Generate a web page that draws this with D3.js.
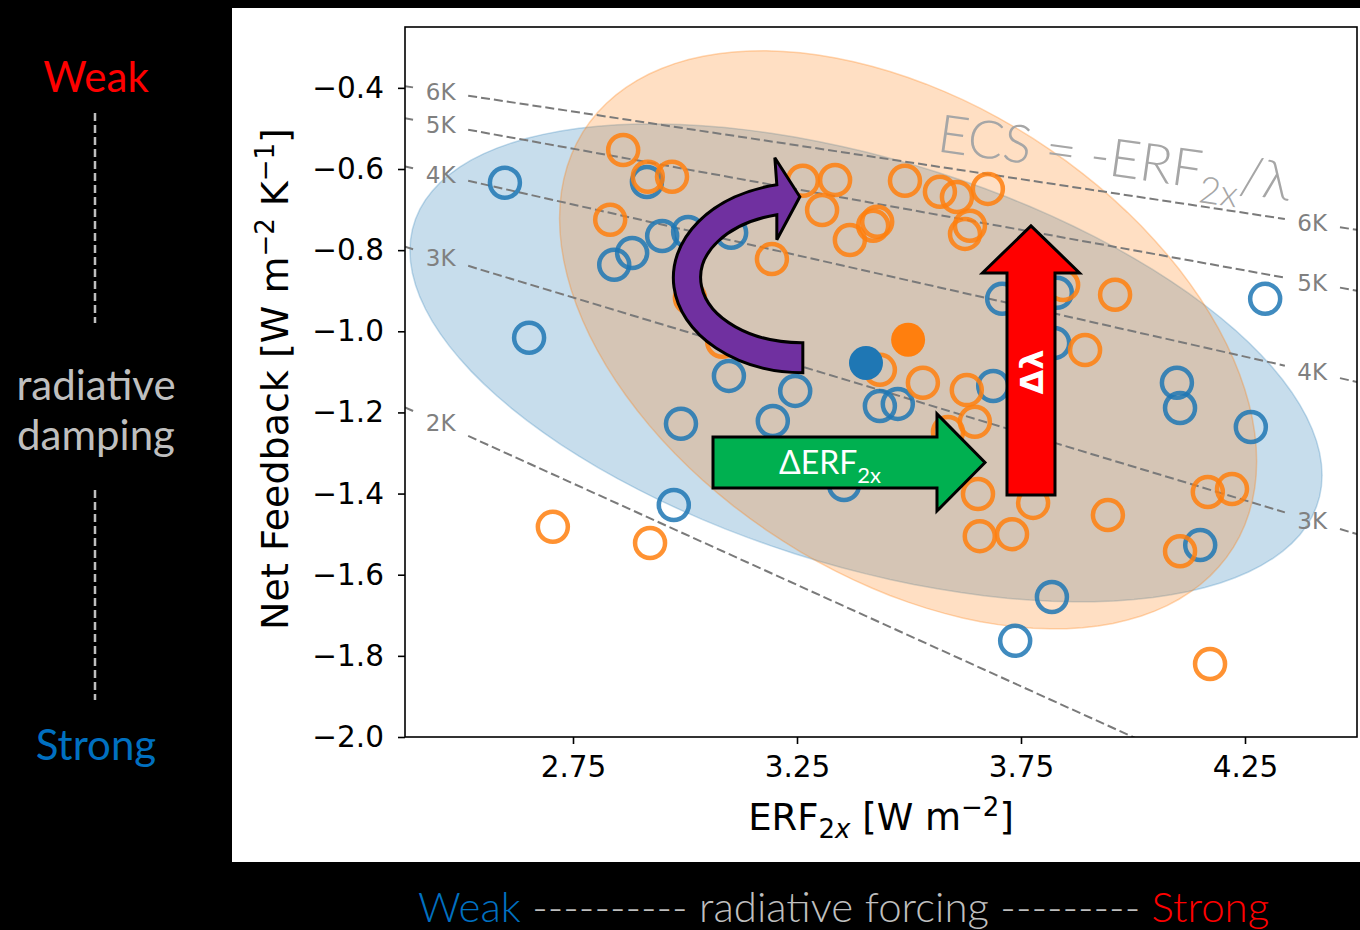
<!DOCTYPE html>
<html>
<head>
<meta charset="utf-8">
<script src="https://cdn.jsdelivr.net/npm/d3@7"></script>
<style>
  body { margin: 0; background: #000; }
  svg { display: block; }
</style>
</head>
<body>
<script>
// CMIP5 models (blue rings)
const cmip5Erf = [2.598, 2.652, 2.915, 2.842, 2.882, 2.949, 3.007, 3.103, 3.098, 3.246, 3.196, 2.991, 2.975, 3.355,
  3.435, 3.475, 3.688, 3.708, 3.830, 3.824, 4.295, 4.098, 4.105, 4.263, 4.150, 3.819, 3.737];
const cmip5Lambda = [-0.634, -1.016, -0.632, -0.836, -0.807, -0.765, -0.755, -0.757, -1.110, -1.147, -1.221, -1.228, -1.428, -1.379,
  -1.184, -1.179, -1.135, -0.920, -0.905, -1.029, -0.920, -1.127, -1.189, -1.236, -1.527, -1.655, -1.763];

// CMIP6 models (orange rings)
const cmip6Erf = [2.862, 2.917, 2.971, 2.833, 3.263, 3.335, 3.306, 3.368, 3.420, 3.429, 3.491, 3.569, 3.607, 3.676,
  3.636, 3.625, 3.194, 3.011, 3.083, 3.435, 3.531, 3.629, 3.647, 3.587, 3.654, 3.844, 3.960, 3.893, 3.777,
  3.944, 3.658, 3.730, 4.167, 4.221, 4.105, 4.172, 2.705, 2.922];
const cmip6Lambda = [-0.553, -0.619, -0.619, -0.725, -0.629, -0.627, -0.701, -0.775, -0.740, -0.730, -0.629, -0.656, -0.669, -0.649,
  -0.740, -0.760, -0.822, -0.918, -1.026, -1.095, -1.127, -1.145, -1.223, -1.248, -1.401, -0.886, -0.910, -1.046, -1.423,
  -1.453, -1.505, -1.500, -1.396, -1.389, -1.542, -1.820, -1.482, -1.522];

// ensemble means [ERF, lambda]
const cmip5Mean = [3.404, -1.078];
const cmip6Mean = [3.498, -1.021];

// spread ellipses: [half-width ERF, half-height lambda, correlation]
const cmip5Ellipse = [1.018, 0.589, -0.47];
const cmip6Ellipse = [0.778, 0.7125, -0.42];

const ecsLevels = [2, 3, 4, 5, 6];
const xTicks = [2.75, 3.25, 3.75, 4.25];
const yTicks = [-0.4, -0.6, -0.8, -1.0, -1.2, -1.4, -1.6, -1.8, -2.0];

const width = 1360, height = 930;
const blue = '#1f77b4', orange = '#ff7f0e';

const svg = d3.select('body').append('svg')
  .attr('width', width)
  .attr('height', height);

svg.append('rect').attr('width', width).attr('height', height).attr('fill', '#000');
// white panel holding the matplotlib figure
svg.append('rect').attr('x', 232).attr('y', 8).attr('width', width - 232).attr('height', 854).attr('fill', '#fff');

const x = d3.scaleLinear().domain([2.375, 4.5]).range([405, 1357]);
const y = d3.scaleLinear().domain([-2.0, -0.25]).range([737, 27]);

svg.append('clipPath').attr('id', 'plot-clip')
  .append('rect')
  .attr('x', x.range()[0]).attr('y', y.range()[1])
  .attr('width', x.range()[1] - x.range()[0])
  .attr('height', y.range()[0] - y.range()[1]);

const plot = svg.append('g').attr('clip-path', 'url(#plot-clip)');

// ellipses (blue first, orange on top)
const ellipsePath = (mean, e) => {
  const phi = Math.acos(e[2]);
  const pts = d3.range(0, 361, 3).map((deg) => {
    const t = deg * Math.PI / 180;
    return [x(mean[0] + e[0] * Math.cos(t)), y(mean[1] + e[1] * Math.cos(t - phi))];
  });
  return d3.line()(pts) + 'Z';
};

plot.append('path')
  .attr('d', ellipsePath(cmip5Mean, cmip5Ellipse))
  .attr('fill', blue).attr('fill-opacity', 0.25)
  .attr('stroke', blue).attr('stroke-opacity', 0.25).attr('stroke-width', 1.5);

plot.append('path')
  .attr('d', ellipsePath(cmip6Mean, cmip6Ellipse))
  .attr('fill', orange).attr('fill-opacity', 0.25)
  .attr('stroke', orange).attr('stroke-opacity', 0.3).attr('stroke-width', 1.5);

// iso-ECS lines: lambda = -ERF / ECS, broken where the inline labels sit
const labelLeft = 2.4545, labelRight = 4.40;
const gapLeft = [2.393, 2.516], gapRight = [4.339, 4.462];
const [x0, x1] = x.domain();

ecsLevels.forEach((k) => {
  const lam = (e) => -e / k;
  const rightVisible = lam(labelRight) >= y.domain()[0];
  const pieces = rightVisible
    ? [[x0, gapLeft[0]], [gapLeft[1], gapRight[0]], [gapRight[1], x1]]
    : [[x0, gapLeft[0]], [gapLeft[1], x1]];
  pieces.forEach(([a, b]) => {
    plot.append('line')
      .attr('x1', x(a)).attr('y1', y(lam(a)))
      .attr('x2', x(b)).attr('y2', y(lam(b)))
      .attr('stroke', '#7a7a7a')
      .attr('stroke-width', 2)
      .attr('stroke-dasharray', '9,4');
  });
  const labels = rightVisible ? [labelLeft, labelRight] : [labelLeft];
  labels.forEach((e) => {
    plot.append('text')
      .attr('x', x(e)).attr('y', y(lam(e)))
      .attr('text-anchor', 'middle')
      .attr('dominant-baseline', 'central')
      .attr('font-family', 'DejaVu Sans')
      .attr('font-size', 23)
      .attr('fill', '#808080')
      .text(`${k}K`);
  });
});

// model rings
const rings = (erf, lambda, color) => {
  plot.append('g')
    .selectAll('circle')
    .data(d3.zip(erf, lambda))
    .join('circle')
    .attr('cx', (d) => x(d[0]))
    .attr('cy', (d) => y(d[1]))
    .attr('r', 15)
    .attr('fill', 'none')
    .attr('stroke', color)
    .attr('stroke-opacity', 0.85)
    .attr('stroke-width', 4.5);
};
rings(cmip5Erf, cmip5Lambda, blue);
rings(cmip6Erf, cmip6Lambda, orange);

// ensemble means
plot.append('circle').attr('cx', x(cmip6Mean[0])).attr('cy', y(cmip6Mean[1])).attr('r', 17).attr('fill', orange);
plot.append('circle').attr('cx', x(cmip5Mean[0])).attr('cy', y(cmip5Mean[1])).attr('r', 17).attr('fill', blue);

// ECS annotation
const ecsText = svg.append('text')
  .attr('transform', `translate(${x(3.56)},${y(-0.556)}) rotate(8)`)
  .attr('font-family', 'Lato')
  .attr('font-weight', 300)
  .attr('font-size', 53)
  .attr('fill', '#a6a6a6');
ecsText.append('tspan').text('ECS = -ERF');
ecsText.append('tspan').attr('font-size', 37).attr('dy', 14).text('2x');
ecsText.append('tspan').attr('dy', -14).text('/λ');

// purple curved arrow (clockwise turn)
const pc = [x(3.263), y(-0.868)];
const purplePath = [
  `M${pc[0]},${pc[1] + 95}`,
  `A130,95 0 0 1 ${pc[0] - 26},${pc[1] - 93}`,
  `L${pc[0] - 28},${pc[1] - 120}`,
  `L${pc[0] - 3},${pc[1] - 81}`,
  `L${pc[0] - 26},${pc[1] - 38}`,
  `L${pc[0] - 26},${pc[1] - 63}`,
  `A101,65 0 0 0 ${pc[0]},${pc[1] + 65}`,
  'Z'
].join(' ');
svg.append('path').attr('d', purplePath)
  .attr('fill', '#7030a0').attr('stroke', '#000').attr('stroke-width', 3).attr('stroke-linejoin', 'miter');

// green arrow: change in forcing
const gx0 = x(3.0625), gx1 = x(3.6696), gy = y(-1.3233);
const gBody = 25.5, gHead = 48.5, gLen = 48;
svg.append('path')
  .attr('d', `M${gx0},${gy - gBody} L${gx1 - gLen},${gy - gBody} L${gx1 - gLen},${gy - gHead} L${gx1},${gy}
    L${gx1 - gLen},${gy + gHead} L${gx1 - gLen},${gy + gBody} L${gx0},${gy + gBody} Z`)
  .attr('fill', '#00b050').attr('stroke', '#000').attr('stroke-width', 3);
const gText = svg.append('text')
  .attr('x', gx0 + 66).attr('y', gy + 12)
  .attr('font-family', 'Lato').attr('font-size', 32).attr('fill', '#fff');
gText.append('tspan').text('ΔERF');
gText.append('tspan').attr('font-size', 22).attr('dy', 9).text('2x');

// red arrow: change in feedback
const rx = x(3.7723), ry0 = y(-1.4035), ry1 = y(-0.7402);
const rBody = 24, rHead = 48.5, rLen = 47;
svg.append('path')
  .attr('d', `M${rx - rBody},${ry0} L${rx - rBody},${ry1 + rLen} L${rx - rHead},${ry1 + rLen} L${rx},${ry1}
    L${rx + rHead},${ry1 + rLen} L${rx + rBody},${ry1 + rLen} L${rx + rBody},${ry0} Z`)
  .attr('fill', '#ff0000').attr('stroke', '#000').attr('stroke-width', 3);
svg.append('text')
  .attr('transform', `translate(${rx + 12},${(ry0 + ry1 + rLen) / 2 - 12}) rotate(-90)`)
  .attr('text-anchor', 'middle')
  .attr('font-family', 'DejaVu Sans').attr('font-weight', 'bold').attr('font-size', 32)
  .attr('fill', '#fff')
  .text('Δλ');

// frame
svg.append('rect')
  .attr('x', x.range()[0]).attr('y', y.range()[1])
  .attr('width', x.range()[1] - x.range()[0])
  .attr('height', y.range()[0] - y.range()[1])
  .attr('fill', 'none').attr('stroke', '#000').attr('stroke-width', 1.6);

// axes
const yAxis = svg.append('g')
  .attr('transform', `translate(${x.range()[0]},0)`)
  .call(d3.axisLeft(y).tickValues(yTicks).tickSize(7).tickPadding(14).tickFormat(d3.format('.1f')));
const xAxis = svg.append('g')
  .attr('transform', `translate(0,${y.range()[0]})`)
  .call(d3.axisBottom(x).tickValues(xTicks).tickSize(7).tickPadding(12).tickFormat(d3.format('.2f')));
[xAxis, yAxis].forEach((g) => {
  g.select('.domain').remove();
  g.selectAll('line').attr('stroke', '#000').attr('stroke-width', 1.6);
  g.selectAll('text').attr('font-family', 'DejaVu Sans').attr('font-size', 29.5).attr('fill', '#000');
});

// axis titles
const xTitle = svg.append('text')
  .attr('x', (x.range()[0] + x.range()[1]) / 2).attr('y', 830)
  .attr('text-anchor', 'middle')
  .attr('font-family', 'DejaVu Sans').attr('font-size', 37).attr('fill', '#000');
xTitle.append('tspan').text('ERF');
xTitle.append('tspan').attr('font-size', 26).attr('dy', 8).text('2');
xTitle.append('tspan').attr('font-size', 26).attr('font-style', 'italic').text('x');
xTitle.append('tspan').attr('dy', -8).text(' [W m');
xTitle.append('tspan').attr('font-size', 26).attr('dy', -14).text('−2');
xTitle.append('tspan').attr('dy', 14).text(']');

const yTitle = svg.append('text')
  .attr('transform', `translate(288,${(y.range()[0] + y.range()[1]) / 2 - 3}) rotate(-90)`)
  .attr('text-anchor', 'middle')
  .attr('font-family', 'DejaVu Sans').attr('font-size', 38).attr('fill', '#000');
yTitle.append('tspan').text('Net Feedback [W m');
yTitle.append('tspan').attr('font-size', 26).attr('dy', -14).text('−2');
yTitle.append('tspan').attr('dy', 14).text(' K');
yTitle.append('tspan').attr('font-size', 26).attr('dy', -14).text('−1');
yTitle.append('tspan').attr('dy', 14).text(']');

// slide annotations: radiative damping (left)
const side = svg.append('g').attr('font-family', 'Lato').attr('font-size', 42).attr('text-anchor', 'middle');
side.append('text').attr('x', 96).attr('y', 92).attr('fill', '#ff0000').text('Weak');
side.append('text').attr('x', 96).attr('y', 400).attr('fill', '#bfbfbf').text('radiative');
side.append('text').attr('x', 96).attr('y', 450).attr('fill', '#bfbfbf').text('damping');
side.append('text').attr('x', 96).attr('y', 760).attr('fill', '#0070c0').text('Strong');
[[113, 323], [490, 700]].forEach(([a, b]) => {
  svg.append('line').attr('x1', 95).attr('x2', 95).attr('y1', a).attr('y2', b)
    .attr('stroke', '#bfbfbf').attr('stroke-width', 2.5).attr('stroke-dasharray', '8,4');
});

// radiative forcing (bottom)
const bottom = svg.append('text')
  .attr('x', 418).attr('y', 922)
  .attr('font-family', 'Lato').attr('font-weight', 300).attr('font-size', 42);
bottom.append('tspan').attr('fill', '#0070c0').text('Weak');
bottom.append('tspan').attr('fill', '#bfbfbf').text(' ---------- radiative forcing --------- ');
bottom.append('tspan').attr('fill', '#ff0000').text('Strong');
</script>
</body>
</html>
